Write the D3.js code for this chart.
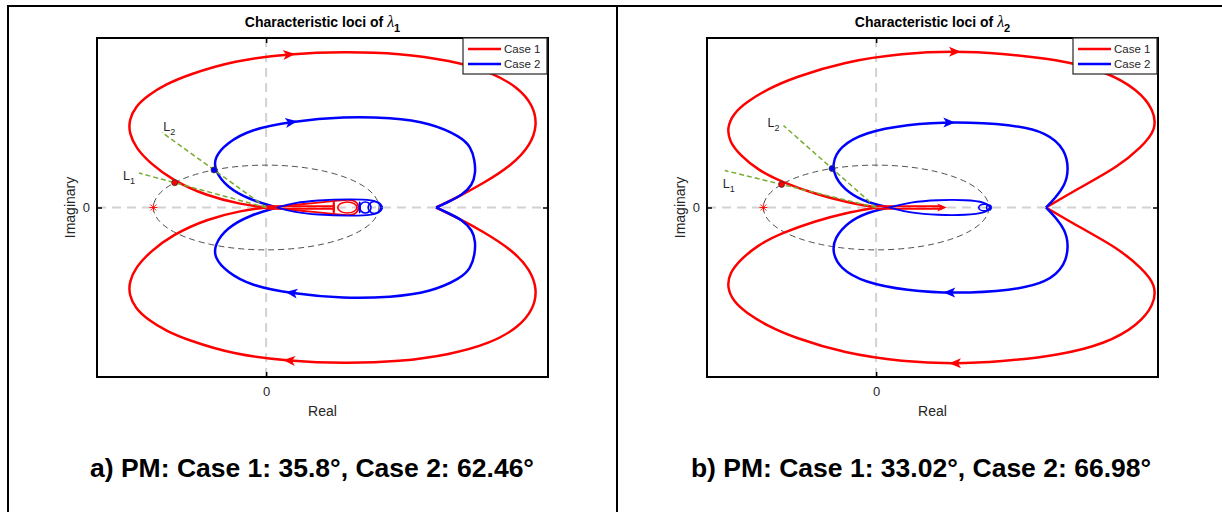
<!DOCTYPE html>
<html>
<head>
<meta charset="utf-8">
<script src="https://cdnjs.cloudflare.com/ajax/libs/d3/7.8.5/d3.min.js"></script>
<style>
	body { margin: 0; background: #fff; }
	svg { display: block; font-family: "Liberation Sans", Arial, Helvetica, sans-serif; }
</style>
</head>
<body>
<script>
// Upper half (Im >= 0) of each characteristic locus as [Re, Im],
// from the origin end round to the pinch near Re = 1.5. The lower half is the conjugate.
var lambda1Case1 = [[0, 0], [-0.214, 0.07], [-0.525, 0.27], [-0.835, 0.65], [-1.030, 1.05], [-1.154, 1.40], [-1.215, 1.76], [-1.215, 2.06], [-1.160, 2.38], [-1.047, 2.65], [-0.888, 2.91], [-0.693, 3.13], [-0.285, 3.47], [0.212, 3.63], [0.691, 3.68], [1.188, 3.64], [1.631, 3.47], [1.986, 3.21], [2.240, 2.83], [2.370, 2.40], [2.405, 1.95], [2.345, 1.47], [2.181, 1.00], [1.933, 0.58], [1.703, 0.25], [1.508, 0]];
var lambda1Case2 = [[0.097, 0], [-0.143, 0.18], [-0.350, 0.48], [-0.458, 0.88], [-0.458, 1.19], [-0.350, 1.52], [-0.143, 1.84], [0.221, 2.03], [0.691, 2.15], [1.108, 2.12], [1.454, 2.00], [1.729, 1.67], [1.815, 1.43], [1.850, 1.12], [1.858, 0.81], [1.830, 0.53], [1.737, 0.29], [1.622, 0.14], [1.508, 0]];
var lambda2Case1 = [[0, 0], [-0.276, 0.13], [-0.542, 0.32], [-0.835, 0.60], [-1.047, 0.88], [-1.207, 1.24], [-1.300, 1.55], [-1.322, 1.88], [-1.268, 2.21], [-1.150, 2.49], [-0.959, 2.80], [-0.728, 3.07], [-0.284, 3.44], [0.239, 3.64], [0.691, 3.69], [1.099, 3.64], [1.622, 3.49], [2.039, 3.21], [2.320, 2.78], [2.466, 2.30], [2.484, 1.83], [2.355, 1.43], [2.146, 0.96], [1.800, 0.46], [1.507, 0]];
var lambda2Case2 = [[0.114, 0], [-0.072, 0.11], [-0.249, 0.34], [-0.370, 0.72], [-0.388, 1.05], [-0.325, 1.43], [-0.107, 1.77], [0.274, 1.96], [0.691, 2.03], [1.205, 1.96], [1.520, 1.77], [1.680, 1.36], [1.708, 0.88], [1.676, 0.53], [1.588, 0.22], [1.507, 0]];

// High-frequency tails hugging the real axis (upper edge only, mirrored too)
var lambda1Case1Tail = [[0.007, 0], [0.2, 0.05], [0.45, 0.11], [0.65, 0.17], [0.76, 0.19], [0.81, 0.12], [0.82, 0]];
var lambda1Case1Spike = [[0, 0.03], [0.6, 0.03]];
var lambda1Case2Tail = [[0.097, 0], [0.25, 0.11], [0.45, 0.17], [0.75, 0.2], [0.95, 0.18], [1.02, 0.09], [1.03, 0]];
var lambda2Case1Spike = [[0, 0.03], [0.58, 0.03]];
var lambda2Case2Tail = [[0.114, 0], [0.3, 0.13], [0.55, 0.18], [0.8, 0.18], [0.97, 0.13], [1.02, 0]];

// Small loops at the tail ends: [case, Re centre, Re half-width, Im half-height]
var lambda1Loops = [[0, 0.6, 0.004, 0.15], [0, 0.72, 0.085, 0.13], [1, 0.83, 0.004, 0.12], [1, 0.88, 0.05, 0.13], [1, 0.96, 0.055, 0.14]];
var lambda2Loops = [[1, 0.96, 0.05, 0.08], [1, 1.0, 0.02, 0.06]];

// Direction arrows: [case, Re, kind]
var lambda1Arrows = [[0, 0.204, "locus"], [1, 0.222, "locus"]];
var lambda2Arrows = [[0, 0.70, "locus"], [1, 0.647, "locus"], [0, 0.585, "spike"]];

// Phase margins (deg) and guide line lengths (in unit-circle radii)
var lambda1PM = [35.8, 62.46];
var lambda2PM = [33.02, 66.98];
var lambda1Guide = [1.39, 2.0];
var lambda2Guide = [1.6, 2.1];

var caseNames = ["Case 1", "Case 2"];
var guideNames = ["1", "2"];
var xTicks = [0];
var yTicks = [0];
var xDomain = [-1.5, 2.5];
var yDomain = [-4, 4];

var colors = ["#ff0000", "#0000ff"],
		plotTop = 38,
		plotWidth = 451,
		plotHeight = 339;

var svg = d3.select("body").append("svg")
		.attr("width", 1222)
		.attr("height", 512);

// Table rules round the two figures
svg.append("path")
		.attr("d", "M7,6H1222M8,6V512M617,6V512")
		.attr("fill", "none")
		.attr("stroke", "#000")
		.attr("stroke-width", 2);

var panels = [
	{left: 97, cellCenter: 312, letter: "a", sub: "1", loci: [lambda1Case1, lambda1Case2],
		tails: [[0, lambda1Case1Tail], [0, lambda1Case1Spike], [1, lambda1Case2Tail]],
		loops: lambda1Loops, arrows: lambda1Arrows, pm: lambda1PM, guide: lambda1Guide,
		labelOffsets: [[-16, 6.5], [1.5, -1.5]]},
	{left: 707, cellCenter: 921, letter: "b", sub: "2", loci: [lambda2Case1, lambda2Case2],
		tails: [[0, lambda2Case1Spike], [1, lambda2Case2Tail]],
		loops: lambda2Loops, arrows: lambda2Arrows, pm: lambda2PM, guide: lambda2Guide,
		labelOffsets: [[-2, 17], [-16, 1]]}
];

panels.forEach(function(p) { drawPanel(p); });

function mirror(points) {
	return points.map(function(d) { return [d[0], -d[1]]; });
}

function drawPanel(p) {
	var xScale = d3.scaleLinear().domain(xDomain).range([0, plotWidth]);
	var yScale = d3.scaleLinear().domain(yDomain).range([plotHeight, 0]);
	var x0 = xScale(0), y0 = yScale(0);

	var line = d3.line()
			.x(function(d) { return xScale(d[0]); })
			.y(function(d) { return yScale(d[1]); })
			.curve(d3.curveBasis);

	var g = svg.append("g")
			.attr("transform", "translate(" + p.left + "," + plotTop + ")");

	// Dashed zero lines
	g.append("line")
			.attr("x1", x0).attr("x2", x0)
			.attr("y1", 0).attr("y2", plotHeight)
			.attr("class", "zero");
	g.append("line")
			.attr("x1", 0).attr("x2", plotWidth)
			.attr("y1", y0).attr("y2", y0)
			.attr("class", "zero");
	g.selectAll(".zero")
			.attr("stroke", "#d2d2d2")
			.attr("stroke-width", 2)
			.attr("stroke-dasharray", "9,6");

	// Unit circle
	g.append("ellipse")
			.attr("cx", x0).attr("cy", y0)
			.attr("rx", xScale(1) - x0)
			.attr("ry", y0 - yScale(1))
			.attr("fill", "none")
			.attr("stroke", "#3c3c3c")
			.attr("stroke-width", 0.9)
			.attr("stroke-dasharray", "6,4");

	// Critical point -1
	var cx = xScale(-1);
	g.append("path")
			.attr("d", "M" + (cx - 4) + "," + y0 + "h8M" + cx + "," + (y0 - 4) + "v8" +
				"M" + (cx - 3) + "," + (y0 - 3) + "l6,6M" + (cx - 3) + "," + (y0 + 3) + "l6,-6")
			.attr("stroke", "#ff0000")
			.attr("stroke-width", 0.9);

	// Loci: upper and conjugate halves
	var upperPaths = [];
	p.loci.forEach(function(points, i) {
		upperPaths.push(g.append("path")
				.attr("d", line(points))
				.attr("class", "locus")
				.attr("stroke", colors[i]).node());
		g.append("path")
				.attr("d", line(mirror(points)))
				.attr("class", "locus")
				.attr("stroke", colors[i]);
	});

	p.tails.forEach(function(t) {
		g.append("path").attr("d", line(t[1])).attr("class", "locus tail").attr("stroke", colors[t[0]]);
		g.append("path").attr("d", line(mirror(t[1]))).attr("class", "locus tail").attr("stroke", colors[t[0]]);
	});

	g.selectAll(".loop")
			.data(p.loops)
		.enter().append("ellipse")
			.attr("class", "loop")
			.attr("cx", function(d) { return xScale(d[1]); })
			.attr("cy", y0)
			.attr("rx", function(d) { return xScale(d[2]) - x0; })
			.attr("ry", function(d) { return y0 - yScale(d[3]); })
			.attr("fill", "none")
			.attr("stroke", function(d) { return colors[d[0]]; })
			.attr("stroke-width", 1.6);

	g.selectAll(".locus")
			.attr("fill", "none")
			.attr("stroke-width", 2.5)
			.attr("stroke-linejoin", "round");
	g.selectAll(".tail").attr("stroke-width", 1.8);

	// Arrowheads placed on the drawn path where Re matches
	var head = "M6,0L-6,-5L-3,0L-6,5Z";
	p.arrows.forEach(function(a) {
		var tx = xScale(a[1]);
		if (a[2] === "spike") {
			g.append("path")
					.attr("d", head)
					.attr("transform", "translate(" + tx + "," + y0 + ") scale(0.8)")
					.attr("fill", colors[a[0]]);
			return;
		}
		var node = upperPaths[a[0]],
				len = node.getTotalLength(),
				best = 0, bestD = Infinity;
		for (var s = 0; s < len - 1; s += 0.5) {
			var pt = node.getPointAtLength(s);
			var d = Math.abs(pt.x - tx);
			if (y0 - pt.y > 20 && d < bestD) { bestD = d; best = s; }
		}
		var p1 = node.getPointAtLength(best),
				p2 = node.getPointAtLength(best + 1),
				angle = Math.atan2(p2.y - p1.y, p2.x - p1.x) * 180 / Math.PI;
		g.append("path")
				.attr("d", head)
				.attr("transform", "translate(" + p1.x + "," + p1.y + ") rotate(" + angle + ")")
				.attr("fill", colors[a[0]]);
		g.append("path")
				.attr("d", head)
				.attr("transform", "translate(" + p1.x + "," + (2 * y0 - p1.y) + ") rotate(" + (180 - angle) + ")")
				.attr("fill", colors[a[0]]);
	});

	// L1 / L2 guide lines through the unit-circle crossings
	p.pm.forEach(function(pm, i) {
		var rad = (180 - pm) * Math.PI / 180,
				dir = [Math.cos(rad), Math.sin(rad)],
				end = [dir[0] * p.guide[i], dir[1] * p.guide[i]];
		g.append("line")
				.attr("x1", x0).attr("y1", y0)
				.attr("x2", xScale(end[0])).attr("y2", yScale(end[1]))
				.attr("stroke", "#77ac30")
				.attr("stroke-width", 1.5)
				.attr("stroke-dasharray", "5,3");
		g.append("circle")
				.attr("cx", xScale(dir[0])).attr("cy", yScale(dir[1]))
				.attr("r", 3)
				.attr("fill", colors[i])
				.attr("stroke", "#333")
				.attr("stroke-width", 0.8);
		var label = g.append("text")
				.attr("x", xScale(end[0]) + p.labelOffsets[i][0])
				.attr("y", yScale(end[1]) + p.labelOffsets[i][1])
				.attr("font-size", 12.5)
				.attr("fill", "#262626")
				.text("L");
		label.append("tspan")
				.attr("dy", 4.5)
				.attr("font-size", 9)
				.text(guideNames[i]);
	});

	// Axes box with inward ticks
	var fmt = d3.format("d");
	g.append("g")
			.attr("class", "axis")
			.attr("transform", "translate(0," + plotHeight + ")")
			.call(d3.axisBottom(xScale).tickValues(xTicks).tickFormat(fmt).tickSizeInner(-5).tickSizeOuter(0).tickPadding(10));
	g.append("g")
			.attr("class", "axis")
			.call(d3.axisLeft(yScale).tickValues(yTicks).tickFormat(fmt).tickSizeInner(-5).tickSizeOuter(0).tickPadding(7));
	g.append("g")
			.attr("class", "axis")
			.call(d3.axisTop(xScale).tickValues(xTicks).tickSizeInner(-5).tickSizeOuter(0).tickFormat(""));
	g.append("g")
			.attr("class", "axis")
			.attr("transform", "translate(" + plotWidth + ",0)")
			.call(d3.axisRight(yScale).tickValues(yTicks).tickSizeInner(-5).tickSizeOuter(0).tickFormat(""));
	g.selectAll(".axis .domain").remove();
	g.selectAll(".axis .tick line").attr("stroke", "#000").attr("stroke-width", 1.5);
	g.selectAll(".axis text")
			.attr("font-size", 13)
			.attr("fill", "#262626");
	g.selectAll(".axis").attr("font-family", null).attr("font-size", null);

	g.append("rect")
			.attr("width", plotWidth)
			.attr("height", plotHeight)
			.attr("fill", "none")
			.attr("stroke", "#000")
			.attr("stroke-width", 2);

	// Legend
	var legend = g.append("g")
			.attr("transform", "translate(" + (plotWidth - 85) + ",0)");
	legend.append("rect")
			.attr("width", 84)
			.attr("height", 36)
			.attr("fill", "#fff")
			.attr("stroke", "#262626")
			.attr("stroke-width", 1.2);
	var item = legend.selectAll(".item")
			.data(caseNames)
		.enter().append("g")
			.attr("class", "item")
			.attr("transform", function(d, i) { return "translate(0," + (11 + i * 15) + ")"; });
	item.append("line")
			.attr("x1", 5).attr("x2", 38)
			.attr("stroke", function(d, i) { return colors[i]; })
			.attr("stroke-width", 2.5);
	item.append("text")
			.attr("x", 41)
			.attr("dy", "0.36em")
			.attr("font-size", 11.5)
			.attr("fill", "#262626")
			.text(function(d) { return d; });

	// Title and axis labels
	var title = svg.append("text")
			.attr("x", p.left + plotWidth / 2)
			.attr("y", 27)
			.attr("text-anchor", "middle")
			.attr("font-size", 14)
			.attr("font-weight", "bold")
			.attr("fill", "#000");
	title.append("tspan").text("Characteristic loci of ");
	title.append("tspan")
			.attr("font-family", "'Liberation Serif', 'Times New Roman', serif")
			.attr("font-style", "italic")
			.attr("font-weight", "normal")
			.attr("font-size", 16)
			.text("λ");
	title.append("tspan")
			.attr("dy", 5)
			.attr("font-size", 11)
			.text(p.sub);

	svg.append("text")
			.attr("x", p.left + plotWidth / 2)
			.attr("y", 416)
			.attr("text-anchor", "middle")
			.attr("font-size", 14)
			.attr("fill", "#262626")
			.text("Real");

	svg.append("text")
			.attr("transform", "translate(" + (p.left - 22.5) + "," + (plotTop + y0) + ") rotate(-90)")
			.attr("text-anchor", "middle")
			.attr("font-size", 14)
			.attr("fill", "#262626")
			.text("Imaginary");

	// Caption with the phase margins
	svg.append("text")
			.attr("x", p.cellCenter)
			.attr("y", 477)
			.attr("text-anchor", "middle")
			.attr("font-size", 26.5)
			.attr("font-weight", "bold")
			.attr("fill", "#000")
			.text(p.letter + ") PM: " + caseNames[0] + ": " + p.pm[0] + "°, " + caseNames[1] + ": " + p.pm[1] + "°");
}
</script>
</body>
</html>
